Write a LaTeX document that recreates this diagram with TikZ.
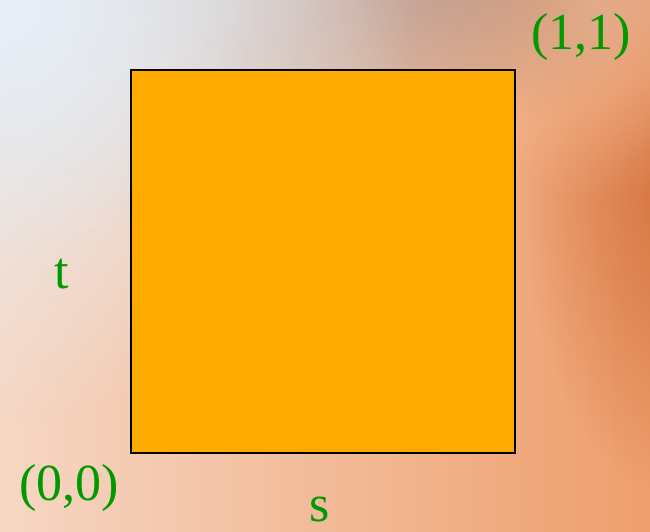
\documentclass[tikz,border=0pt]{standalone}
\usepackage{fontspec}
\setmainfont{Liberation Serif}
\usetikzlibrary{fadings}
\definecolor{sqorange}{HTML}{FFAA00}
\definecolor{lblgreen}{HTML}{009900}
\definecolor{bgleft}{HTML}{F6D7C4}
\definecolor{bgright}{HTML}{EE9E6C}
\definecolor{bgblue}{HTML}{E6EEF6}
\definecolor{bggray}{HTML}{CFC8C8}
\definecolor{bgbrown}{HTML}{B08878}
\definecolor{bgpeach}{HTML}{F8BE98}
\definecolor{bgdark}{HTML}{D06C38}
\tikzfading[name=softcirc, inner color=transparent!0, outer color=transparent!100]
\begin{document}
\begin{tikzpicture}[x=1pt,y=1pt,
  lbl/.style={text=lblgreen, anchor=base, inner sep=0pt, font=\fontsize{52}{60}\selectfont},
  sqbox/.style={draw=black, fill=sqorange, line width=2pt, inner sep=0pt, minimum width=384pt, minimum height=383pt}]
\useasboundingbox (0,0) rectangle (650,531);
\begin{scope}
\clip (0,0) rectangle (650,531);
\shade[left color=bgleft, right color=bgright] (0,0) rectangle (650,531);
\fill[bgdark, opacity=0.85, path fading=softcirc] (670,360) ellipse [x radius=150pt, y radius=320pt];
\fill[bgpeach, opacity=0.9, path fading=softcirc] (590,531) ellipse [x radius=200pt, y radius=200pt];
\fill[bgbrown, opacity=0.8, path fading=softcirc] (400,545) ellipse [x radius=300pt, y radius=150pt];
\fill[bggray, opacity=0.8, path fading=softcirc] (220,531) ellipse [x radius=320pt, y radius=240pt];
\fill[bgblue, path fading=softcirc] (0,531) ellipse [x radius=420pt, y radius=420pt];
\fill[bgblue, opacity=0.9, path fading=softcirc] (0,531) ellipse [x radius=260pt, y radius=260pt];
\end{scope}
\node[sqbox] (sq) at (323,269.5) {};
\node[lbl] (p11) at (581,481) {(1,1)};
\node[lbl] (t) at (62,243) {t};
\node[lbl] (p00) at (69,31) {(0,0)};
\node[lbl] (s) at (320,10) {s};
\end{tikzpicture}
\end{document}
